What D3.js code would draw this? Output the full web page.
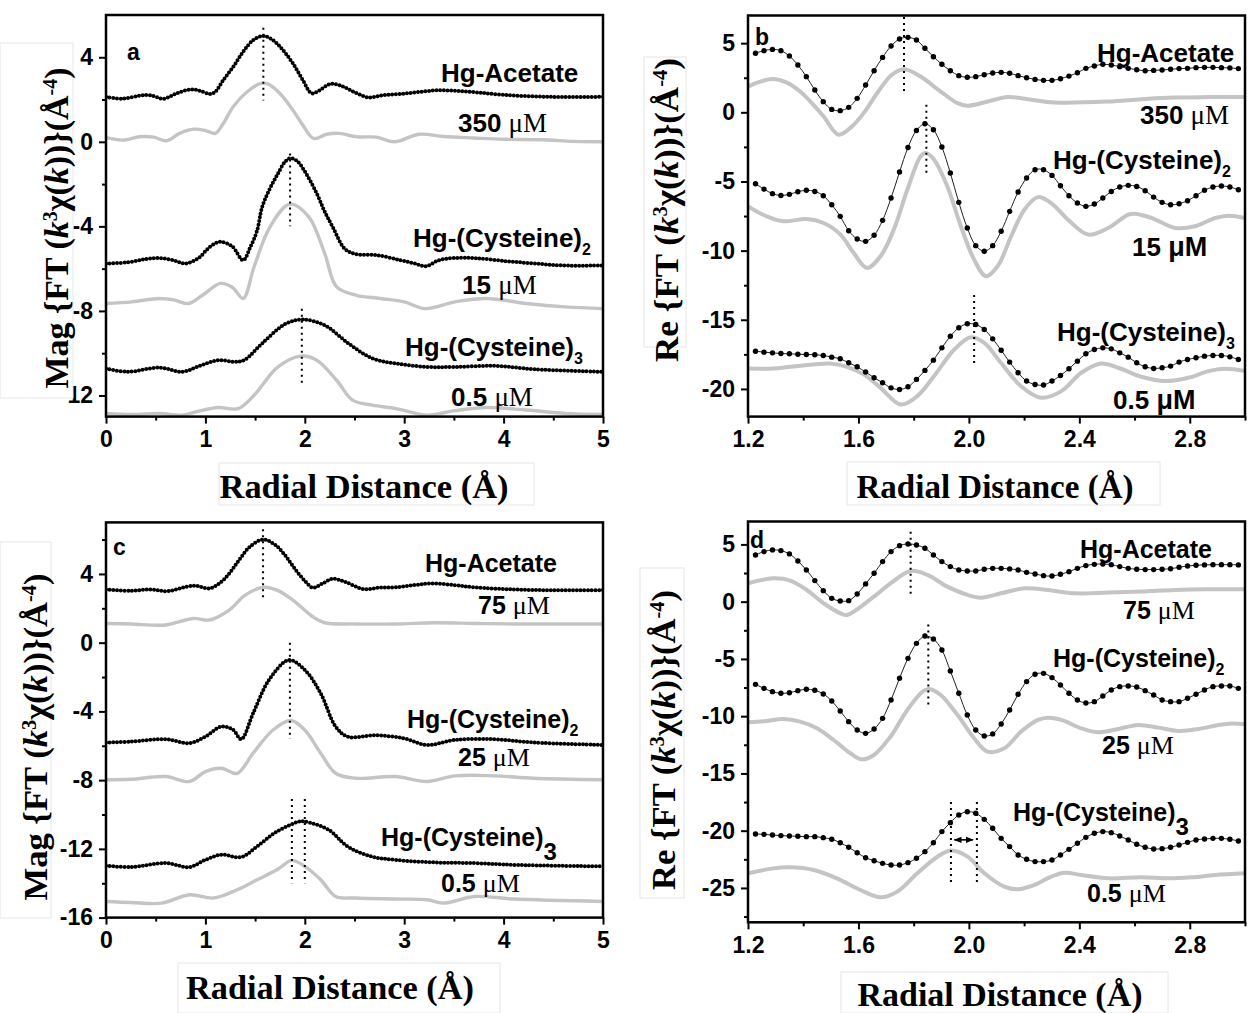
<!DOCTYPE html>
<html><head><meta charset="utf-8">
<script src="https://cdn.jsdelivr.net/npm/d3@7"></script>
<style>body{margin:0;background:#fff}</style>
</head><body>
<svg id="chart" width="1248" height="1013" xmlns="http://www.w3.org/2000/svg"></svg>
<script>
// ---------------- DATA ----------------
// Panels a, c : |FT| magnitude, knots [R (Å), value]
const aAcetateBlack = [[0,2.13],[0.17,2.04],[0.34,2.18],[0.44,2.21],[0.58,2.04],[0.71,2.29],[0.85,2.48],[0.95,2.41],[1.05,2.26],[1.1,2.37],[1.18,2.92],[1.28,3.55],[1.38,4.26],[1.48,4.81],[1.58,5.01],[1.68,4.81],[1.78,4.34],[1.88,3.71],[1.98,2.92],[2.07,2.29],[2.15,2.44],[2.25,2.73],[2.35,2.68],[2.49,2.37],[2.64,2.1],[2.79,2.21],[2.96,2.26],[3.15,2.36],[3.35,2.44],[3.55,2.4],[3.75,2.33],[4.0,2.22],[4.3,2.15],[4.6,2.12],[5.0,2.13]];
const aAcetateGray = [[0,0.2],[0.17,0.08],[0.34,0.24],[0.48,0.22],[0.61,0.05],[0.74,0.4],[0.88,0.6],[1.01,0.52],[1.1,0.4],[1.18,0.87],[1.28,1.66],[1.42,2.37],[1.55,2.75],[1.62,2.75],[1.75,2.29],[1.88,1.5],[1.98,0.79],[2.09,0.16],[2.22,0.36],[2.35,0.4],[2.52,0.24],[2.72,0.22],[2.9,0.0],[3.15,0.36],[3.4,0.25],[3.7,0.18],[4.0,0.12],[4.4,0.1],[4.7,0.02],[5.0,0.0]];
const aCys2Black = [[0,-5.76],[0.22,-5.7],[0.4,-5.55],[0.54,-5.5],[0.69,-5.62],[0.8,-5.76],[0.93,-5.5],[1.05,-4.95],[1.15,-4.73],[1.27,-4.95],[1.38,-5.6],[1.45,-5.0],[1.52,-4.2],[1.57,-3.1],[1.65,-2.2],[1.73,-1.5],[1.8,-0.95],[1.85,-0.78],[1.92,-0.9],[2.0,-1.4],[2.12,-2.44],[2.2,-3.3],[2.28,-4.02],[2.4,-5.05],[2.5,-5.3],[2.72,-5.36],[2.96,-5.6],[3.1,-5.75],[3.22,-5.88],[3.35,-5.6],[3.5,-5.5],[3.71,-5.5],[4.03,-5.65],[4.3,-5.75],[4.6,-5.85],[5,-5.85]];
const aCys2Gray = [[0,-7.65],[0.26,-7.57],[0.54,-7.41],[0.69,-7.49],[0.83,-7.65],[0.97,-7.26],[1.15,-6.7],[1.27,-6.88],[1.38,-7.41],[1.49,-5.91],[1.65,-4.02],[1.85,-2.95],[2.04,-3.55],[2.2,-5.28],[2.32,-6.86],[2.52,-7.26],[2.76,-7.41],[3.0,-7.57],[3.21,-7.89],[3.51,-7.57],[3.83,-7.41],[4.23,-7.65],[4.62,-7.81],[5,-7.89]];
const aCys3Black = [[0,-10.73],[0.22,-10.88],[0.54,-10.68],[0.77,-10.88],[0.93,-10.62],[1.13,-10.33],[1.29,-10.41],[1.39,-10.33],[1.57,-9.54],[1.81,-8.6],[1.98,-8.41],[2.2,-8.68],[2.44,-9.54],[2.68,-10.25],[2.92,-10.49],[3.23,-10.65],[3.51,-10.65],[3.91,-10.6],[4.31,-10.76],[5,-10.88]];
const aCys3Gray = [[0,-12.85],[0.26,-12.9],[0.54,-12.85],[0.77,-12.93],[0.93,-12.74],[1.13,-12.57],[1.33,-12.62],[1.49,-11.99],[1.73,-10.65],[1.96,-10.14],[2.12,-10.33],[2.32,-11.28],[2.48,-12.22],[2.68,-12.46],[2.92,-12.62],[3.23,-12.93],[3.51,-12.72],[3.83,-12.57],[4.23,-12.69],[4.62,-12.85],[5,-12.9]];

const cAcetateBlack = [[0,3.1],[0.25,3.02],[0.45,3.1],[0.62,3.0],[0.88,3.32],[1.04,3.16],[1.15,3.5],[1.25,4.1],[1.35,4.9],[1.45,5.6],[1.58,6.0],[1.7,5.7],[1.8,5.1],[1.9,4.3],[2.0,3.6],[2.08,3.2],[2.18,3.45],[2.28,3.72],[2.4,3.55],[2.59,3.12],[2.75,3.2],[2.91,3.22],[3.1,3.35],[3.27,3.45],[3.5,3.35],[3.71,3.22],[4.1,3.1],[4.5,3.05],[5,3.06]];
const cAcetateGray = [[0,1.12],[0.25,1.09],[0.6,1.03],[0.88,1.41],[1.04,1.32],[1.24,1.9],[1.4,2.77],[1.58,3.22],[1.72,3.06],[1.88,2.48],[2.08,1.51],[2.2,1.16],[2.51,1.09],[2.91,1.09],[3.31,1.16],[3.71,1.12],[4.1,1.09],[5,1.09]];
const cCys2Black = [[0,-5.81],[0.25,-5.76],[0.6,-5.62],[0.84,-5.85],[1.0,-5.47],[1.16,-4.88],[1.28,-5.08],[1.36,-5.62],[1.48,-4.11],[1.64,-2.17],[1.84,-1.01],[2.0,-1.59],[2.16,-2.95],[2.31,-4.88],[2.43,-5.47],[2.71,-5.39],[2.99,-5.56],[3.23,-5.95],[3.51,-5.66],[3.91,-5.62],[4.3,-5.81],[5,-5.95]];
const cCys2Gray = [[0,-7.98],[0.25,-7.95],[0.6,-7.79],[0.84,-8.08],[1.0,-7.5],[1.16,-7.31],[1.32,-7.6],[1.48,-6.43],[1.68,-5.08],[1.86,-4.53],[2.0,-5.08],[2.16,-6.43],[2.31,-7.6],[2.51,-7.89],[2.91,-7.79],[3.23,-8.08],[3.51,-7.75],[3.91,-7.75],[4.3,-7.89],[5,-7.98]];
const cCys3Black = [[0,-12.98],[0.25,-13.06],[0.6,-12.83],[0.84,-13.06],[1.0,-12.64],[1.16,-12.34],[1.36,-12.48],[1.52,-11.86],[1.72,-10.99],[1.95,-10.4],[2.0,-10.41],[2.24,-10.89],[2.43,-11.86],[2.67,-12.44],[2.91,-12.64],[3.31,-12.79],[3.71,-12.83],[4.1,-12.93],[5,-13.02]];
const cCys3Gray = [[0,-15.06],[0.25,-15.12],[0.56,-15.16],[0.84,-14.67],[1.08,-14.86],[1.32,-14.38],[1.52,-13.8],[1.72,-13.22],[1.87,-12.67],[2.0,-13.02],[2.16,-13.8],[2.31,-14.77],[2.51,-14.86],[2.91,-14.92],[3.23,-14.96],[3.39,-15.16],[3.71,-14.77],[4.1,-14.92],[5,-15.06]];

// Panels b, d : real part, black markers on the FT R-grid
const rGrid = [1.2272,1.2579,1.2886,1.3192,1.3499,1.3806,1.4113,1.4420,1.4726,1.5033,1.5340,1.5647,1.5954,1.6260,1.6567,1.6874,1.7181,1.7488,1.7794,1.8101,1.8408,1.8715,1.9022,1.9328,1.9635,1.9942,2.0249,2.0556,2.0862,2.1169,2.1476,2.1783,2.2090,2.2396,2.2703,2.3010,2.3317,2.3624,2.3930,2.4237,2.4544,2.4851,2.5158,2.5464,2.5771,2.6078,2.6385,2.6692,2.6998,2.7305,2.7612,2.7919,2.8226,2.8532,2.8839,2.9146,2.9453,2.9760];
const bAcetateDots = [4.27,4.46,4.55,4.46,4.07,3.42,2.58,1.61,0.77,0.21,0.12,0.36,1.01,1.97,3.01,3.97,4.79,5.30,5.42,5.23,4.63,4.02,3.47,3.01,2.65,2.53,2.58,2.72,2.84,2.89,2.82,2.65,2.50,2.38,2.31,2.31,2.43,2.62,2.86,3.18,3.35,3.47,3.42,3.30,3.18,3.08,3.01,3.03,3.06,3.11,3.16,3.18,3.23,3.25,3.25,3.23,3.21,3.16];
const bCys2Dots = [-5.16,-5.55,-5.88,-6.01,-5.93,-5.74,-5.64,-5.72,-6.03,-6.68,-7.52,-8.56,-9.16,-9.33,-8.89,-7.81,-6.20,-4.32,-2.54,-1.31,-0.83,-1.26,-2.51,-4.39,-6.51,-8.36,-9.64,-10.05,-9.64,-8.60,-7.16,-5.76,-4.75,-4.15,-4.15,-4.56,-5.31,-6.03,-6.56,-6.80,-6.63,-6.20,-5.72,-5.40,-5.28,-5.36,-5.67,-6.13,-6.51,-6.68,-6.61,-6.39,-6.03,-5.64,-5.40,-5.33,-5.40,-5.60];
const bCys3Dots = [-17.27,-17.34,-17.39,-17.44,-17.46,-17.49,-17.51,-17.53,-17.58,-17.70,-17.82,-18.11,-18.40,-18.78,-19.19,-19.55,-19.92,-20.04,-19.84,-19.31,-18.66,-17.92,-17.03,-16.19,-15.58,-15.29,-15.34,-15.70,-16.38,-17.20,-18.06,-18.83,-19.43,-19.68,-19.72,-19.43,-19.03,-18.54,-17.99,-17.46,-17.15,-17.03,-17.10,-17.39,-17.70,-18.11,-18.40,-18.52,-18.47,-18.35,-18.06,-17.87,-17.75,-17.63,-17.58,-17.58,-17.68,-17.87];
const bAcetateGray = [[1.2,1.86],[1.244,2.22],[1.292,2.40],[1.341,2.15],[1.389,1.50],[1.437,0.54],[1.474,-0.3],[1.528,-1.62],[1.575,-1.05],[1.619,-0.06],[1.67,1.45],[1.72,2.7],[1.765,3.12],[1.825,2.59],[1.898,1.50],[1.959,0.66],[1.995,0.47],[2.068,0.78],[2.141,1.10],[2.213,0.95],[2.31,0.71],[2.504,0.78],[2.625,0.95],[2.746,1.07],[2.868,1.10],[3.0,1.10]];
const bCys2Gray = [[1.2,-6.80],[1.268,-7.52],[1.328,-7.88],[1.413,-7.71],[1.474,-8.0],[1.535,-8.84],[1.583,-10.17],[1.631,-11.25],[1.68,-10.41],[1.728,-8.48],[1.777,-5.60],[1.825,-3.19],[1.844,-2.95],[1.874,-3.43],[1.922,-5.36],[1.971,-8.24],[2.019,-10.65],[2.062,-11.85],[2.104,-11.13],[2.153,-8.97],[2.201,-7.04],[2.25,-6.13],[2.298,-6.56],[2.359,-7.76],[2.432,-8.84],[2.504,-8.36],[2.577,-7.40],[2.601,-7.33],[2.662,-7.64],[2.747,-8.36],[2.819,-8.24],[2.892,-7.64],[2.941,-7.47],[3.0,-7.64]];
const bCys3Gray = [[1.2,-18.52],[1.292,-18.52],[1.353,-18.40],[1.438,-18.23],[1.498,-18.16],[1.559,-18.40],[1.619,-18.95],[1.68,-19.92],[1.753,-21.12],[1.813,-20.52],[1.874,-19.07],[1.947,-17.15],[2.007,-16.26],[2.056,-16.67],[2.116,-18.11],[2.189,-19.80],[2.262,-20.64],[2.335,-20.16],[2.407,-18.83],[2.48,-18.16],[2.541,-18.47],[2.625,-19.12],[2.71,-19.43],[2.795,-19.19],[2.868,-18.71],[2.928,-18.54],[3.0,-18.71]];

const dAcetateDots = [4.08,4.37,4.52,4.46,4.17,3.55,2.77,1.84,0.96,0.29,0.06,0.09,0.67,1.55,2.48,3.50,4.37,4.89,5.04,4.95,4.66,4.08,3.50,3.06,2.77,2.68,2.68,2.83,2.91,2.91,2.86,2.77,2.56,2.42,2.27,2.24,2.39,2.62,2.91,3.15,3.26,3.29,3.23,3.06,2.91,2.83,2.80,2.80,2.83,2.88,3.00,3.12,3.18,3.21,3.23,3.23,3.23,3.21];
const dCys2Dots = [-7.22,-7.57,-7.86,-8.00,-7.95,-7.77,-7.65,-7.74,-8.06,-8.67,-9.55,-10.48,-11.21,-11.50,-11.12,-10.19,-8.59,-6.69,-4.95,-3.64,-3.00,-3.26,-4.22,-6.05,-8.00,-9.90,-11.21,-11.73,-11.55,-10.68,-9.46,-8.09,-6.98,-6.34,-6.26,-6.63,-7.28,-8.00,-8.59,-8.85,-8.73,-8.24,-7.71,-7.42,-7.36,-7.45,-7.77,-8.15,-8.59,-8.73,-8.73,-8.44,-8.09,-7.71,-7.42,-7.36,-7.36,-7.57];
const dCys3Dots = [-20.29,-20.32,-20.38,-20.43,-20.46,-20.49,-20.52,-20.52,-20.61,-20.75,-21.05,-21.45,-21.92,-22.36,-22.62,-22.85,-23.00,-23.00,-22.79,-22.41,-21.83,-21.05,-20.08,-19.30,-18.63,-18.34,-18.48,-19.01,-19.79,-20.67,-21.39,-22.12,-22.50,-22.70,-22.70,-22.56,-22.12,-21.63,-21.10,-20.58,-20.23,-20.08,-20.17,-20.46,-20.81,-21.19,-21.45,-21.60,-21.57,-21.45,-21.25,-21.02,-20.81,-20.72,-20.67,-20.67,-20.75,-20.90];
const dAcetateGray = [[1.2,1.60],[1.292,2.04],[1.353,1.84],[1.413,1.02],[1.474,-0.14],[1.535,-1.02],[1.559,-1.16],[1.656,0.44],[1.716,1.60],[1.789,2.68],[1.85,2.33],[1.922,1.31],[1.995,0.59],[2.044,0.35],[2.116,0.73],[2.201,1.17],[2.286,1.02],[2.383,0.73],[2.504,0.79],[2.625,0.88],[2.747,1.02],[2.868,1.08],[3.0,1.08]];
const dCys2Gray = [[1.2,-10.54],[1.268,-10.42],[1.328,-10.24],[1.389,-10.48],[1.45,-11.06],[1.51,-12.08],[1.571,-13.24],[1.613,-13.77],[1.656,-13.39],[1.716,-11.79],[1.777,-9.46],[1.832,-7.86],[1.856,-7.62],[1.898,-8.15],[1.959,-9.90],[2.019,-11.93],[2.068,-13.10],[2.128,-12.81],[2.189,-11.35],[2.25,-10.33],[2.286,-10.13],[2.335,-10.33],[2.407,-11.06],[2.468,-11.41],[2.541,-11.12],[2.613,-10.77],[2.686,-11.00],[2.759,-11.29],[2.832,-11.12],[2.904,-10.77],[2.953,-10.65],[3.0,-10.71]];
const dCys3Gray = [[1.2,-23.72],[1.292,-23.29],[1.353,-23.20],[1.438,-23.43],[1.522,-24.16],[1.607,-25.18],[1.68,-25.82],[1.741,-25.32],[1.813,-23.72],[1.886,-22.27],[1.935,-21.74],[1.995,-22.27],[2.056,-23.72],[2.128,-24.89],[2.177,-25.12],[2.238,-24.74],[2.298,-24.01],[2.347,-23.67],[2.407,-23.87],[2.504,-24.16],[2.625,-24.07],[2.722,-24.16],[2.807,-24.07],[2.892,-23.87],[3.0,-23.72]];

// Peak marker lines [R, yTop, yBottom]
const aPeakLines = [[1.583,5.4,1.95],[1.852,-0.55,-4.0],[1.97,-7.9,-11.4]];
const bPeakLines = [[1.765,6.9,1.4],[1.846,0.55,-4.6],[2.019,-13.2,-18.35]];
const cPeakLines = [[1.58,6.6,2.5],[1.85,0,-5.6],[1.87,-9.1,-14.0],[2.0,-9.1,-14.0]];
const dPeakLines = [[1.789,6.1,0.7],[1.853,-2.0,-9.2],[1.935,-17.5,-24.7],[2.029,-17.5,-24.7]];
const dShiftArrow = [1.94, 2.022, -20.8];

// Ticks
const magXTicks = [0,1,2,3,4,5], magXMinor = [0.5,1.5,2.5,3.5,4.5];
const reXTicks = [1.2,1.6,2.0,2.4,2.8], reXMinor = [1.4,1.8,2.2,2.6,3.0];
const aYTicks = [-12,-8,-4,0,4], aYMinor = [-10,-6,-2,2];
const bYTicks = [-20,-15,-10,-5,0,5], bYMinor = [-17.5,-12.5,-7.5,-2.5,2.5];
const cYTicks = [-16,-12,-8,-4,0,4], cYMinor = [-14,-10,-6,-2,2,6];
const dYTicks = [-25,-20,-15,-10,-5,0,5], dYMinor = [-27.5,-22.5,-17.5,-12.5,-7.5,-2.5,2.5];

// ---------------- DRAW ----------------
const svg = d3.select('#chart');
const SANS = "'Liberation Sans', Arial, Helvetica, sans-serif";
const SERIF = "'Liberation Serif', 'Times New Roman', Times, serif";
let clipId = 0;

// faint boxes of the pasted axis titles
const boxes = [[0,43,73,398],[644,57,686,347],[219,463,534,505],[847,462,1160,505],[0,542,51,918],[178,963,500,1013],[640,568,684,898],[841,972,1168,1013]];

function drawPanel(p) {
  const x = d3.scaleLinear().domain(p.xDomain).range([p.left, p.right]);
  const y = d3.scaleLinear().domain(p.yDomain).range([p.bottom, p.top]);
  const g = svg.append('g');
  const cid = 'clip' + (clipId++);
  g.append('clipPath').attr('id', cid).append('rect')
    .attr('x', p.left).attr('y', p.top).attr('width', p.right - p.left).attr('height', p.bottom - p.top);
  const plot = g.append('g').attr('clip-path', `url(#${cid})`);
  const line = d3.line().x(d => x(d[0])).y(d => y(d[1])).curve(d3.curveCatmullRom.alpha(0.5));

  p.gray.forEach(s => plot.append('path').datum(s).attr('d', line)
    .attr('fill', 'none').attr('stroke', '#c4c4c4').attr('stroke-width', p.dense ? 3.4 : 4)
    .attr('stroke-linejoin', 'round'));

  if (p.dense) {
    p.black.forEach(s => plot.append('path').datum(s).attr('d', line)
      .attr('fill', 'none').attr('stroke', '#000').attr('stroke-width', 4)
      .attr('stroke-linecap', 'round').attr('stroke-dasharray', '0 3.7'));
  } else {
    p.black.forEach(vals => {
      const pts = vals.map((v, i) => [rGrid[i], v]);
      plot.append('path').datum(pts).attr('d', line)
        .attr('fill', 'none').attr('stroke', '#222').attr('stroke-width', 1);
      plot.selectAll(null).data(pts).enter().append('circle')
        .attr('cx', d => x(d[0])).attr('cy', d => y(d[1])).attr('r', 2.7).attr('fill', '#000');
    });
  }

  // peak marker lines
  g.selectAll(null).data(p.peaks).enter().append('line')
    .attr('x1', d => x(d[0])).attr('x2', d => x(d[0]))
    .attr('y1', d => y(d[1])).attr('y2', d => y(d[2]))
    .attr('stroke', '#000').attr('stroke-width', 2).attr('stroke-dasharray', '2 4');

  // axes
  const xa = g.append('g').attr('transform', `translate(0,${p.bottom})`)
    .call(d3.axisBottom(x).tickValues(p.xTicks).tickSize(7).tickPadding(7).tickFormat(p.xFmt));
  const xm = g.append('g').attr('transform', `translate(0,${p.bottom})`)
    .call(d3.axisBottom(x).tickValues(p.xMinor).tickSize(4).tickFormat(''));
  const ya = g.append('g').attr('transform', `translate(${p.left},0)`)
    .call(d3.axisLeft(y).tickValues(p.yTicks).tickSize(7).tickPadding(6).tickFormat(d => String(d)));
  const ym = g.append('g').attr('transform', `translate(${p.left},0)`)
    .call(d3.axisLeft(y).tickValues(p.yMinor).tickSize(4).tickFormat(''));
  [xa, xm, ya, ym].forEach(a => {
    a.select('.domain').remove();
    a.selectAll('line').attr('stroke', '#000').attr('stroke-width', 2);
    a.selectAll('text').attr('fill', '#000').style('font-family', SANS)
      .style('font-size', '23px').style('font-weight', 'bold');
  });

  // frame
  g.append('rect').attr('x', p.left).attr('y', p.top)
    .attr('width', p.right - p.left).attr('height', p.bottom - p.top)
    .attr('fill', 'none').attr('stroke', '#000').attr('stroke-width', 2.5);

  // panel letter
  g.append('text').attr('x', p.letterPos[0]).attr('y', p.letterPos[1])
    .style('font-family', SANS).style('font-weight', 'bold').style('font-size', '23px')
    .text(p.letter);

  // series labels
  p.labels.forEach(L => {
    const t = g.append('text').attr('x', L.x).attr('y', L.y)
      .style('font-family', SANS).style('font-weight', 'bold').style('font-size', L.fs + 'px');
    if (L.conc) {
      t.append('tspan').text(L.conc + ' ');
      t.append('tspan').text('\u03BCM')
        .style('font-family', L.sansMu ? SANS : SERIF).style('font-weight', L.sansMu ? 'bold' : 'normal')
        .style('font-size', (L.fs + 1) + 'px');
    } else {
      t.append('tspan').text(L.name);
      if (L.sub) t.append('tspan').text(L.sub).attr('dy', L.subDy)
        .style('font-size', L.subFs + 'px');
    }
  });

  if (p.arrow) {
    const ay = y(p.arrow[2]);
    g.append('line').attr('x1', x(p.arrow[0]) + 2).attr('x2', x(p.arrow[1]) - 2)
      .attr('y1', ay).attr('y2', ay).attr('stroke', '#000').attr('stroke-width', 1.6)
      .attr('marker-start', 'url(#arrowS)').attr('marker-end', 'url(#arrowE)');
  }
}

const defs = svg.append('defs');
defs.append('marker').attr('id', 'arrowE').attr('viewBox', '0 0 10 10').attr('refX', 9).attr('refY', 5)
  .attr('markerWidth', 5).attr('markerHeight', 5).attr('orient', 'auto')
  .append('path').attr('d', 'M0,1 L10,5 L0,9 Z').attr('fill', '#000');
defs.append('marker').attr('id', 'arrowS').attr('viewBox', '0 0 10 10').attr('refX', 1).attr('refY', 5)
  .attr('markerWidth', 5).attr('markerHeight', 5).attr('orient', 'auto')
  .append('path').attr('d', 'M10,1 L0,5 L10,9 Z').attr('fill', '#000');

const f1 = d3.format('.1f');
const lbl = (name, x, y, fs, sub, subDy, subFs) => ({name, x, y, fs, sub, subDy, subFs});
const conc = (c, x, y, fs, sansMu) => ({conc: c, x, y, fs, sansMu});

drawPanel({left:106, right:603, top:15, bottom:416.6, xDomain:[0,5], yDomain:[-13,6], dense:true,
  gray:[aAcetateGray, aCys2Gray, aCys3Gray], black:[aAcetateBlack, aCys2Black, aCys3Black],
  peaks:aPeakLines, xTicks:magXTicks, xMinor:magXMinor, yTicks:aYTicks, yMinor:aYMinor, xFmt:d3.format('d'),
  letter:'a', letterPos:[127,60],
  labels:[lbl('Hg-Acetate',441,82,26), conc('350',458,132,26),
          lbl('Hg-(Cysteine)',413,247,26,'2',8,16), conc('15',462,294,26),
          lbl('Hg-(Cysteine)',405,356,26,'3',8,16), conc('0.5',451,406,26)]});

drawPanel({left:748, right:1245, top:15.5, bottom:416.6, xDomain:[1.2,3.0], yDomain:[-22,7], dense:false,
  gray:[bAcetateGray, bCys2Gray, bCys3Gray], black:[bAcetateDots, bCys2Dots, bCys3Dots],
  peaks:bPeakLines, xTicks:reXTicks, xMinor:reXMinor, yTicks:bYTicks, yMinor:bYMinor, xFmt:f1,
  letter:'b', letterPos:[755,45],
  labels:[lbl('Hg-Acetate',1097,62,26), conc('350',1140,124,26),
          lbl('Hg-(Cysteine)',1053,169,26,'2',8,16), conc('15',1132,256,26,true),
          lbl('Hg-(Cysteine)',1057,341,26,'3',8,16), conc('0.5',1113,409,26,true)]});

drawPanel({left:106, right:603, top:522.4, bottom:917.6, xDomain:[0,5], yDomain:[-16,7], dense:true,
  gray:[cAcetateGray, cCys2Gray, cCys3Gray], black:[cAcetateBlack, cCys2Black, cCys3Black],
  peaks:cPeakLines, xTicks:magXTicks, xMinor:magXMinor, yTicks:cYTicks, yMinor:cYMinor, xFmt:d3.format('d'),
  letter:'c', letterPos:[113,555],
  labels:[lbl('Hg-Acetate',425,572,25), conc('75',478,614,25),
          lbl('Hg-(Cysteine)',407,728,25,'2',8,16), conc('25',458,766,25),
          lbl('Hg-(Cysteine)',381,846,25,'3',14,24), conc('0.5',441,892,25)]});

drawPanel({left:748, right:1245, top:521.5, bottom:922.3, xDomain:[1.2,3.0], yDomain:[-28,7], dense:false,
  gray:[dAcetateGray, dCys2Gray, dCys3Gray], black:[dAcetateDots, dCys2Dots, dCys3Dots],
  peaks:dPeakLines, xTicks:reXTicks, xMinor:reXMinor, yTicks:dYTicks, yMinor:dYMinor, xFmt:f1,
  letter:'d', letterPos:[750,548], arrow:dShiftArrow,
  labels:[lbl('Hg-Acetate',1080,558,25), conc('75',1123,619,25),
          lbl('Hg-(Cysteine)',1053,667,25,'2',8,16), conc('25',1102,754,25),
          lbl('Hg-(Cysteine)',1013,821,25,'3',14,24), conc('0.5',1087,902,25)]});

// title boxes (pasted labels in the original)
svg.selectAll(null).data(boxes).enter().append('rect')
  .attr('x', d => d[0]).attr('y', d => d[1]).attr('width', d => d[2] - d[0]).attr('height', d => d[3] - d[1])
  .attr('fill', '#fff').attr('stroke', '#e6e6e6').attr('stroke-width', 1);

// axis titles
function yTitle(prefix, cx, cy, len) {
  const t = svg.append('text').attr('transform', `translate(${cx},${cy}) rotate(-90)`)
    .attr('text-anchor', 'middle').attr('dy', '0.35em')
    .attr('textLength', len).attr('lengthAdjust', 'spacingAndGlyphs')
    .style('font-family', SERIF).style('font-weight', 'bold').style('font-size', '34px');
  t.append('tspan').text(prefix + ' {FT (');
  t.append('tspan').text('k').style('font-style', 'italic');
  t.append('tspan').text('3').attr('dy', -11).style('font-size', '20px');
  t.append('tspan').text('\u03C7(').attr('dy', 11);
  t.append('tspan').text('k').style('font-style', 'italic');
  t.append('tspan').text('))}(\u00C5');
  t.append('tspan').text('-4').attr('dy', -11).style('font-size', '20px');
  t.append('tspan').text(')').attr('dy', 11);
}
yTitle('Mag', 56, 228, 321);
yTitle('Re', 666, 210, 304);
yTitle('Mag', 35, 737, 327);
yTitle('Re', 663, 740, 300);

function xTitle(cx, baseline, len) {
  svg.append('text').attr('x', cx).attr('y', baseline).attr('text-anchor', 'middle')
    .attr('textLength', len).attr('lengthAdjust', 'spacingAndGlyphs')
    .style('font-family', SERIF).style('font-weight', 'bold').style('font-size', '34px')
    .text('Radial Distance (\u00C5)');
}
xTitle(364, 498, 289);
xTitle(995, 498, 277);
xTitle(330, 999, 288);
xTitle(1000, 1006, 285);
</script></body></html>
